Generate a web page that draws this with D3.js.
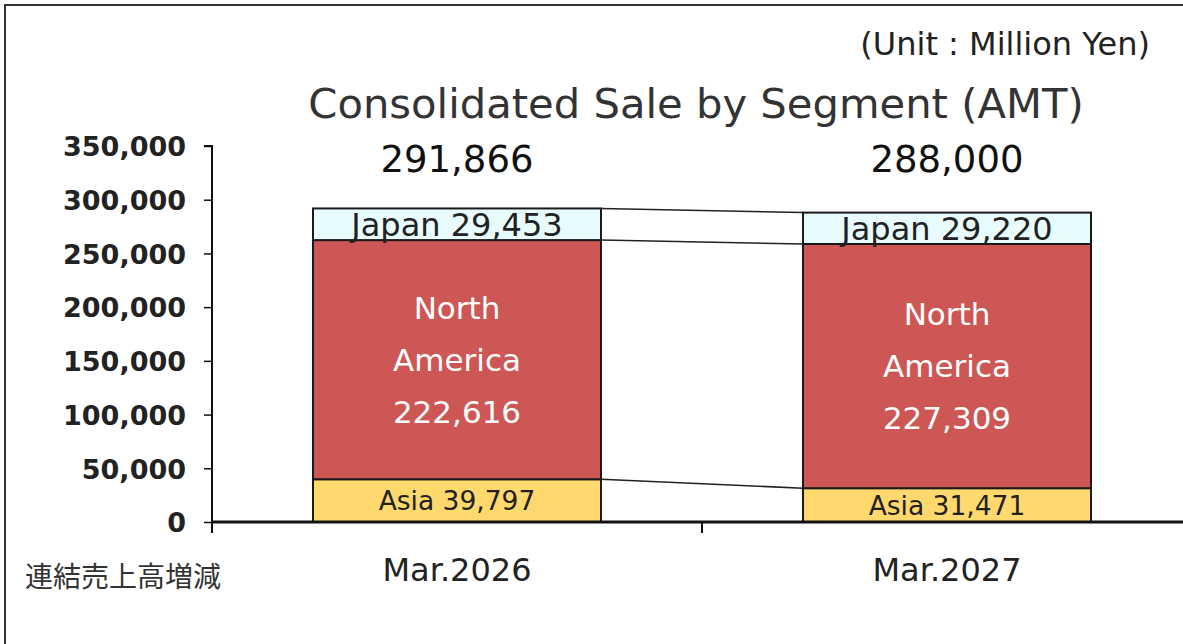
<!DOCTYPE html>
<html>
<head>
<meta charset="utf-8">
<script src="https://cdn.jsdelivr.net/npm/d3@7"></script>
<style>
  body { margin: 0; background: #fff; }
  text { font-family: "DejaVu Sans", Verdana, sans-serif; }
</style>
</head>
<body>
<div id="chart"></div>
<script>
var periods = ["Mar.2026", "Mar.2027"];
var segments = ["Asia", "North America", "Japan"];
var asiaValues = [39797, 31471];
var northAmericaValues = [222616, 227309];
var japanValues = [29453, 29220];
var totals = [291866, 288000];
var yTicks = [0, 50000, 100000, 150000, 200000, 250000, 300000, 350000];

var width = 1183, height = 644;
var margin = {top: 146, bottom: 122, left: 212, right: -9};
var colors = {"Asia": "#FFD86E", "North America": "#CD5755", "Japan": "#E8FCFE"};

var svg = d3.select("#chart").append("svg")
  .attr("width", width)
  .attr("height", height);

// frame (runs off the right and bottom edge)
svg.append("rect")
  .attr("x", 5).attr("y", 5)
  .attr("width", 1220).attr("height", 700)
  .attr("fill", "none")
  .attr("stroke", "#333")
  .attr("stroke-width", 2);

var xScale = d3.scaleBand()
  .domain(periods)
  .range([margin.left, width - margin.right])
  .paddingInner(0)
  .paddingOuter(0);
var barWidth = 288;

var yScale = d3.scaleLinear()
  .domain([0, 350000])
  .range([height - margin.bottom, margin.top]);

var table = periods.map(function(p, i) {
  return {period: p, "Asia": asiaValues[i], "North America": northAmericaValues[i], "Japan": japanValues[i]};
});
var stacked = d3.stack().keys(segments)(table);

function barX(p) { return xScale(p) + xScale.bandwidth()/2 - barWidth/2; }

// connector lines between bars
stacked.forEach(function(layer) {
  svg.append("line")
    .attr("x1", barX(periods[0]) + barWidth)
    .attr("y1", yScale(layer[0][1]))
    .attr("x2", barX(periods[1]))
    .attr("y2", yScale(layer[1][1]))
    .attr("stroke", "#222")
    .attr("stroke-width", 1.5);
});

stacked.forEach(function(layer) {
  svg.selectAll("rect.bar-" + layer.index)
    .data(layer)
    .enter()
    .append("rect")
      .attr("x", function(d) { return barX(d.data.period); })
      .attr("y", function(d) { return yScale(d[1]); })
      .attr("width", barWidth)
      .attr("height", function(d) { return yScale(d[0]) - yScale(d[1]); })
      .attr("fill", colors[layer.key])
      .attr("stroke", "#1a1a1a")
      .attr("stroke-width", 2);
});

// axes
var yAxis = svg.append("g")
  .attr("transform", "translate(" + margin.left + ",0)")
  .call(d3.axisLeft(yScale).tickValues(yTicks).tickSize(8).tickPadding(18)
    .tickFormat(d3.format(",")));
yAxis.select(".domain").attr("stroke", "#111").attr("stroke-width", 2)
  .attr("d", "M-8," + yScale(350000) + "H0V" + (yScale(0) + 11));
yAxis.selectAll(".tick line").attr("stroke", "#111").attr("stroke-width", 1.5);
yAxis.selectAll("text")
  .attr("fill", "#222")
  .style("font-family", "DejaVu Sans")
  .style("font-weight", "bold")
  .style("font-size", "27px")
  .attr("dy", "0.36em");

var xAxis = svg.append("g")
  .attr("transform", "translate(0," + yScale(0) + ")");
xAxis.append("line")
  .attr("x1", margin.left).attr("x2", width)
  .attr("stroke", "#111").attr("stroke-width", 3);
xAxis.selectAll("line.sep")
  .data(periods.slice(1))
  .enter()
  .append("line")
    .attr("x1", function(d) { return xScale(d); })
    .attr("x2", function(d) { return xScale(d); })
    .attr("y1", 0).attr("y2", 11)
    .attr("stroke", "#111").attr("stroke-width", 2);

svg.selectAll("text.period")
  .data(periods)
  .enter()
  .append("text")
    .attr("x", function(d) { return xScale(d) + xScale.bandwidth()/2; })
    .attr("y", 581)
    .attr("text-anchor", "middle")
    .attr("font-size", "32px")
    .attr("fill", "#222")
    .text(function(d) { return d; });

// segment labels
var labelMid = function(d) { return yScale((d[0] + d[1]) / 2); };
var f = d3.format(",");
stacked[0].forEach(function(d) {
  svg.append("text")
    .attr("x", barX(d.data.period) + barWidth/2)
    .attr("y", labelMid(d))
    .attr("dy", "0.36em")
    .attr("text-anchor", "middle")
    .attr("font-size", "26.5px")
    .attr("fill", "#222")
    .text("Asia " + f(d[1] - d[0]));
});
stacked[1].forEach(function(d) {
  var t = svg.append("text")
    .attr("x", barX(d.data.period) + barWidth/2)
    .attr("y", labelMid(d) - 52)
    .attr("dy", "0.36em")
    .attr("text-anchor", "middle")
    .attr("font-size", "31px")
    .attr("fill", "#fff");
  ["North", "America", f(d[1] - d[0])].forEach(function(s, i) {
    t.append("tspan")
      .attr("x", barX(d.data.period) + barWidth/2)
      .attr("dy", i == 0 ? "0.36em" : "52px")
      .text(s);
  });
});
stacked[2].forEach(function(d) {
  svg.append("text")
    .attr("x", barX(d.data.period) + barWidth/2)
    .attr("y", labelMid(d))
    .attr("dy", "0.36em")
    .attr("text-anchor", "middle")
    .attr("font-size", "32px")
    .attr("fill", "#222")
    .text("Japan " + f(d[1] - d[0]));
});

// totals above bars
svg.selectAll("text.total")
  .data(totals)
  .enter()
  .append("text")
    .attr("x", function(d, i) { return xScale(periods[i]) + xScale.bandwidth()/2; })
    .attr("y", 172)
    .attr("text-anchor", "middle")
    .attr("font-size", "37px")
    .attr("fill", "#111")
    .text(function(d) { return f(d); });

svg.append("text")
  .attr("x", 696).attr("y", 118)
  .attr("text-anchor", "middle")
  .attr("font-size", "41.7px")
  .attr("fill", "#333")
  .text("Consolidated Sale by Segment (AMT)");

svg.append("text")
  .attr("x", 1150).attr("y", 55)
  .attr("text-anchor", "end")
  .attr("font-size", "32px")
  .attr("fill", "#222")
  .text("(Unit : Million Yen)");

svg.append("text")
  .attr("x", 25).attr("y", 587)
  .attr("font-size", "28px")
  .attr("fill", "#333")
  .style("font-family", "Noto Sans CJK JP")
  .text("連結売上高増減");
</script>
</body>
</html>
